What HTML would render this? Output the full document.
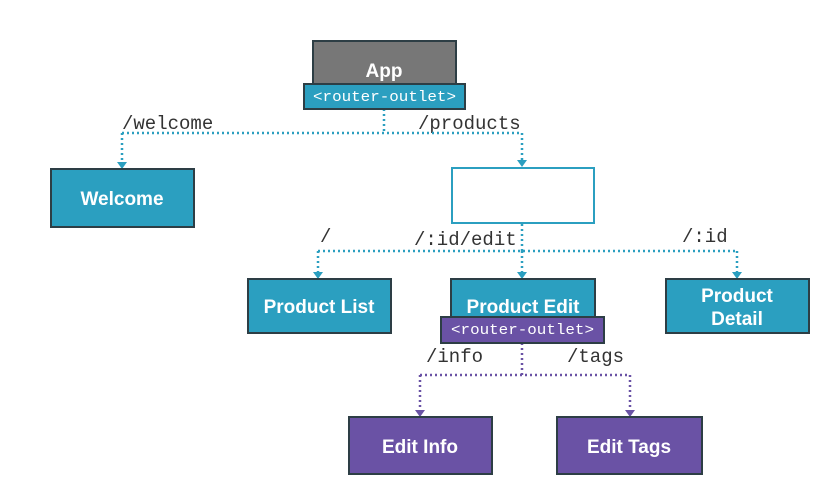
<!DOCTYPE html>
<html><head><style>body{margin:0;background:#fff}svg{display:block}</style></head><body>
<svg width="822" height="501" xmlns="http://www.w3.org/2000/svg">
<g font-family="Liberation Mono, monospace" font-size="19" fill="#333">
<text x="122" y="129">/welcome</text>
<text x="418" y="129">/products</text>
<text x="320" y="242">/</text>
<text x="414" y="245">/:id/edit</text>
<text x="682" y="242">/:id</text>
<text x="426" y="362">/info</text>
<text x="567" y="362">/tags</text>
</g>
<g stroke="#2b9fc0" stroke-width="2.5" stroke-dasharray="2 3" fill="none">
<path d="M384 109 V133 M122 133 H522 M122 133 V163 M522 133 V161"/>
<path d="M522 224 V251 M318 251 H737 M318 251 V273 M522 251 V273 M737 251 V273"/>
</g>
<g fill="#2b9fc0">
<path d="M117 162 h10 l-5 7z"/><path d="M517 160 h10 l-5 7z"/>
<path d="M313 272 h10 l-5 7z"/><path d="M517 272 h10 l-5 7z"/><path d="M732 272 h10 l-5 7z"/>
</g>
<g stroke="#6a52a5" stroke-width="2.5" stroke-dasharray="2 3" fill="none">
<path d="M522 343 V375 M420 375 H630 M420 375 V410 M630 375 V410"/>
</g>
<g fill="#6a52a5"><path d="M415 410 h10 l-5 7z"/><path d="M625 410 h10 l-5 7z"/></g>
<g stroke="#2d3e45" stroke-width="2">
<rect x="313" y="41" width="143" height="44" fill="#777"/>
<rect x="304" y="84" width="161" height="25" fill="#2b9fc0"/>
<rect x="51" y="169" width="143" height="58" fill="#2b9fc0"/>
<rect x="248" y="279" width="143" height="54" fill="#2b9fc0"/>
<rect x="451" y="279" width="144" height="40" fill="#2b9fc0"/>
<rect x="441" y="317" width="163" height="26" fill="#6a52a5"/>
<rect x="666" y="279" width="143" height="54" fill="#2b9fc0"/>
<rect x="349" y="417" width="143" height="57" fill="#6a52a5"/>
<rect x="557" y="417" width="145" height="57" fill="#6a52a5"/>
</g>
<rect x="452" y="168" width="142" height="55" fill="#fff" stroke="#2b9fc0" stroke-width="2"/>
<g font-family="Liberation Sans, sans-serif" font-size="19" font-weight="bold" fill="#fff" text-anchor="middle">
<text x="384" y="77">App</text>
<text x="122" y="205">Welcome</text>
<text x="319" y="313">Product List</text>
<text x="523" y="313">Product Edit</text>
<text x="737" y="302">Product</text>
<text x="737" y="325">Detail</text>
<text x="420" y="453">Edit Info</text>
<text x="629" y="453">Edit Tags</text>
</g>
<g font-family="Liberation Mono, monospace" font-size="15" fill="#fff">
<text x="313" y="101" textLength="143" lengthAdjust="spacingAndGlyphs">&lt;router-outlet&gt;</text>
<text x="451" y="334" textLength="143" lengthAdjust="spacingAndGlyphs">&lt;router-outlet&gt;</text>
</g>
</svg>
</body></html>
